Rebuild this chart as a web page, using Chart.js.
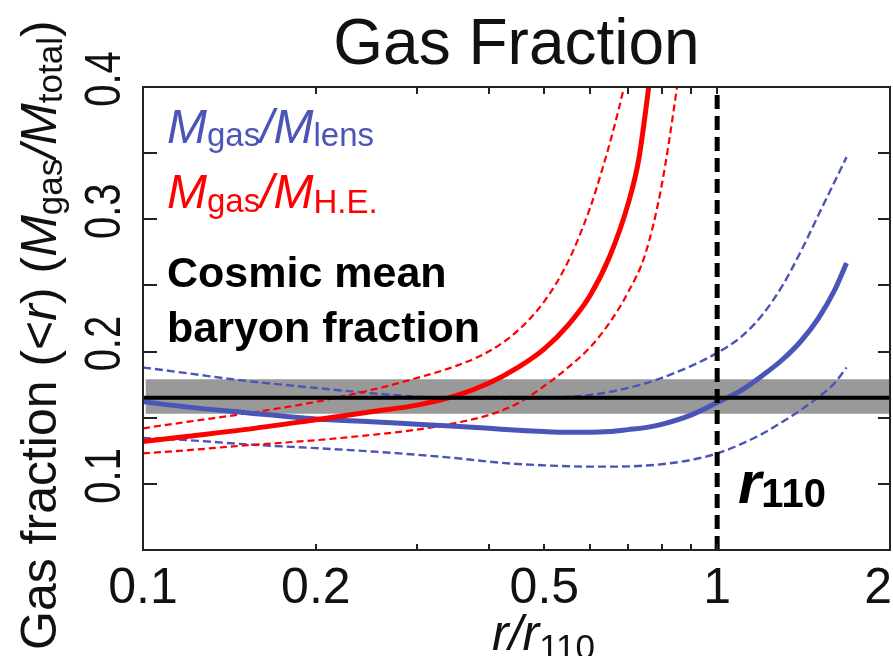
<!DOCTYPE html>
<html>
<head>
<meta charset="utf-8">
<script src="https://cdn.jsdelivr.net/npm/chart.js@4.4.0/dist/chart.umd.min.js"></script>
<style>
  html, body { margin: 0; padding: 0; background: #ffffff; }
  #wrap { width: 893px; height: 656px; position: relative; }
</style>
</head>
<body>
<div id="wrap"><canvas id="c" width="893" height="656"></canvas></div>
<script>
// Radii are in units of r110.
// Gas fraction from the lensing mass profile (best fit and 1-sigma bounds).
const radiusLens   = [0.1, 0.12, 0.15, 0.2, 0.25, 0.3, 0.35, 0.4, 0.45, 0.5, 0.55, 0.6, 0.65, 0.7, 0.75, 0.8, 0.9, 1.0, 1.1, 1.2, 1.3, 1.4, 1.5, 1.6, 1.68];
const fgasLens     = [0.162, 0.158, 0.154, 0.149, 0.147, 0.145, 0.1435, 0.142, 0.1405, 0.1395, 0.139, 0.139, 0.1395, 0.141, 0.1425, 0.145, 0.152, 0.1615, 0.1705, 0.182, 0.194, 0.208, 0.225, 0.246, 0.267];
const fgasLensHigh = [0.188, 0.1835, 0.178, 0.1725, 0.1685, 0.166, 0.1648, 0.1643, 0.1643, 0.1648, 0.1658, 0.1672, 0.1695, 0.1725, 0.176, 0.180, 0.189, 0.199, 0.211, 0.228, 0.250, 0.276, 0.303, 0.328, 0.347];
const fgasLensLow  = [0.1347, 0.133, 0.130, 0.127, 0.1245, 0.122, 0.1195, 0.1168, 0.115, 0.114, 0.1133, 0.113, 0.113, 0.1132, 0.1138, 0.1148, 0.118, 0.123, 0.130, 0.138, 0.147, 0.156, 0.1655, 0.176, 0.188];

// Gas fraction from the hydrostatic-equilibrium mass (best fit and bounds).
const radiusHE     = [0.1, 0.12, 0.15, 0.2, 0.25, 0.3, 0.35, 0.4, 0.45, 0.5, 0.55, 0.6, 0.65, 0.7, 0.73, 0.76, 0.79];
const fgasHE       = [0.132, 0.136, 0.141, 0.1485, 0.1545, 0.1595, 0.1665, 0.176, 0.188, 0.202, 0.220, 0.242, 0.272, 0.312, 0.345, 0.40, 0.46];
const radiusHEHigh = [0.1, 0.12, 0.15, 0.2, 0.25, 0.3, 0.35, 0.4, 0.45, 0.5, 0.55, 0.6, 0.63, 0.66, 0.69, 0.72];
const fgasHEHigh   = [0.142, 0.147, 0.153, 0.162, 0.171, 0.180, 0.189, 0.200, 0.216, 0.238, 0.268, 0.308, 0.337, 0.368, 0.402, 0.44];
const radiusHELow  = [0.1, 0.12, 0.15, 0.2, 0.25, 0.3, 0.35, 0.4, 0.45, 0.5, 0.55, 0.6, 0.65, 0.7, 0.75, 0.8, 0.85, 0.9];
const fgasHELow    = [0.123, 0.1255, 0.129, 0.133, 0.137, 0.141, 0.146, 0.152, 0.161, 0.174, 0.188, 0.203, 0.222, 0.245, 0.274, 0.325, 0.398, 0.48];

// Cosmic mean baryon fraction and its uncertainty band.
const cosmicRadius = [0.1, 2];
const bandRadius   = [0.101, 2];
const cosmicMean   = 0.165;
const cosmicLow    = 0.153;
const cosmicHigh   = 0.179;

// Marker at r = r110.
const r110 = 1.0;

// Axis ticks.
const xTickValues = [0.1, 0.2, 0.5, 1, 2];
const xTickLabels = ['0.1', '0.2', '0.5', '1', '2'];
const xMinorTicks = [0.2, 0.3, 0.4, 0.5, 0.6, 0.7, 0.8, 0.9, 1.0];
const yTickValues = [0.1, 0.2, 0.3, 0.4];
const yTickLabels = ['0.1', '0.2', '0.3', '0.4'];
const yMinorTicks = [0.1, 0.15, 0.2, 0.25, 0.3, 0.35];

const FONT = '"Liberation Sans", Arial, Helvetica, sans-serif';
const BLUE = '#4b55b7';
const RED = '#ff0000';
const GRAY = '#999999';

function pts(rs, vs) { return rs.map((r, i) => ({ x: r, y: vs[i] })); }
function flat(rs, v) { return rs.map(r => ({ x: r, y: v })); }

function lineSet(data, color, width, dash, order) {
  return {
    data, borderColor: color, borderWidth: width, borderDash: dash || [],
    pointRadius: 0, fill: false, cubicInterpolationMode: 'monotone', order,
    borderCapStyle: 'butt'
  };
}

const datasets = [
  { data: flat(bandRadius, cosmicLow), borderWidth: 0, pointRadius: 0, fill: false, order: 20 },
  { data: flat(bandRadius, cosmicHigh), borderWidth: 0, pointRadius: 0, fill: '-1', backgroundColor: GRAY, order: 19 },
  lineSet(pts(radiusLens, fgasLensHigh), BLUE, 2.4, [8, 4], 6),
  lineSet(pts(radiusLens, fgasLensLow), BLUE, 2.4, [8, 4], 6),
  lineSet(pts(radiusHEHigh, fgasHEHigh), RED, 2.2, [7, 4], 5),
  lineSet(pts(radiusHELow, fgasHELow), RED, 2.2, [7, 4], 5),
  lineSet(pts(radiusLens, fgasLens), BLUE, 5, null, 4),
  lineSet(pts(radiusHE, fgasHE), RED, 5, null, 3),
  { data: flat(cosmicRadius, cosmicMean), borderColor: '#000', borderWidth: 4, pointRadius: 0, fill: false, tension: 0, order: 1 },
  { data: [{ x: r110, y: 0.05 }, { x: r110, y: 0.4 }], borderColor: '#000', borderWidth: 5,
    borderDash: [14, 7], pointRadius: 0, fill: false, tension: 0, order: 0, clip: 6 }
];

function drawRuns(ctx, x, y, runs) {
  let cx = x;
  for (const r of runs) {
    ctx.font = r.font;
    ctx.fillStyle = r.color;
    ctx.fillText(r.text, cx, y + (r.dy || 0));
    cx += ctx.measureText(r.text).width + (r.kern || 0);
  }
  return cx;
}

const decorations = {
  id: 'decorations',
  afterDraw(chart) {
    const ctx = chart.ctx;
    const xs = chart.scales.x, ys = chart.scales.y;
    const a = chart.chartArea;
    ctx.save();

    // frame
    ctx.strokeStyle = '#222';
    ctx.lineWidth = 2;
    ctx.strokeRect(a.left, a.top, a.right - a.left, a.bottom - a.top);

    // inward tick marks
    ctx.lineWidth = 2;
    ctx.beginPath();
    for (const v of xMinorTicks) {
      const px = Math.round(xs.getPixelForValue(v));
      ctx.moveTo(px, a.bottom); ctx.lineTo(px, a.bottom - 6);
      ctx.moveTo(px, a.top); ctx.lineTo(px, a.top + 7);
    }
    for (const v of yMinorTicks) {
      const py = Math.round(ys.getPixelForValue(v));
      ctx.moveTo(a.left, py); ctx.lineTo(a.left + 14, py);
      ctx.moveTo(a.right, py); ctx.lineTo(a.right - 12, py);
    }
    ctx.stroke();

    ctx.textBaseline = 'alphabetic';

    // x tick labels
    ctx.fillStyle = '#111';
    ctx.font = '50px ' + FONT;
    ctx.textAlign = 'center';
    xTickValues.forEach((v, i) => {
      let px = xs.getPixelForValue(v);
      const w = ctx.measureText(xTickLabels[i]).width;
      if (px + w / 2 > chart.width - 1) px = chart.width - 1 - w / 2;
      ctx.fillText(xTickLabels[i], px, 603);
    });

    // y tick labels (rotated)
    yTickValues.forEach((v, i) => {
      const py = ys.getPixelForValue(v) - 8;
      ctx.save();
      ctx.translate(120, py);
      ctx.rotate(-Math.PI / 2);
      ctx.scale(0.8, 1);
      ctx.textAlign = 'center';
      ctx.fillText(yTickLabels[i], 0, 0);
      ctx.restore();
    });

    ctx.textAlign = 'left';

    // title
    ctx.font = '64px ' + FONT;
    ctx.textAlign = 'center';
    ctx.fillStyle = '#111';
    ctx.fillText('Gas Fraction', (a.left + a.right) / 2, 64);
    ctx.textAlign = 'left';

    // x axis title
    drawRuns(ctx, 492, 650, [
      { text: 'r/r', font: 'italic 50px ' + FONT, color: '#111' },
      { text: '110', font: '35px ' + FONT, color: '#111', dy: 9 }
    ]);

    // y axis title (rotated)
    ctx.save();
    ctx.translate(56, 650);
    ctx.rotate(-Math.PI / 2);
    drawRuns(ctx, 0, 0, [
      { text: 'Gas fraction (<', font: '50px ' + FONT, color: '#111' },
      { text: 'r', font: 'italic 50px ' + FONT, color: '#111' },
      { text: ') (', font: '50px ' + FONT, color: '#111' },
      { text: 'M', font: 'italic 50px ' + FONT, color: '#111' },
      { text: 'gas', font: '35px ' + FONT, color: '#111', dy: 6 },
      { text: '/', font: 'italic 50px ' + FONT, color: '#111' },
      { text: 'M', font: 'italic 50px ' + FONT, color: '#111' },
      { text: 'total', font: '35px ' + FONT, color: '#111', dy: 6 },
      { text: ')', font: '50px ' + FONT, color: '#111' }
    ]);
    ctx.restore();

    // legend labels
    drawRuns(ctx, 167, 143, [
      { text: 'M', font: 'italic 48px ' + FONT, color: BLUE },
      { text: 'gas', font: '33px ' + FONT, color: BLUE, dy: 3 },
      { text: '/', font: 'italic 48px ' + FONT, color: BLUE },
      { text: 'M', font: 'italic 48px ' + FONT, color: BLUE },
      { text: 'lens', font: '33px ' + FONT, color: BLUE, dy: 3 }
    ]);
    drawRuns(ctx, 167, 208, [
      { text: 'M', font: 'italic 48px ' + FONT, color: RED },
      { text: 'gas', font: '33px ' + FONT, color: RED, dy: 4 },
      { text: '/', font: 'italic 48px ' + FONT, color: RED },
      { text: 'M', font: 'italic 48px ' + FONT, color: RED },
      { text: 'H.E.', font: '33px ' + FONT, color: RED, dy: 5 }
    ]);
    ctx.fillStyle = '#000';
    ctx.font = 'bold 43px ' + FONT;
    ctx.fillText('Cosmic mean', 167, 287);
    ctx.fillText('baryon fraction', 167, 342);

    // r110 marker label
    drawRuns(ctx, 738, 503, [
      { text: 'r', font: 'italic bold 60px ' + FONT, color: '#000' },
      { text: '110', font: 'bold 40px ' + FONT, color: '#000', dy: 4 }
    ]);

    ctx.restore();
  }
};

new Chart(document.getElementById('c'), {
  type: 'line',
  data: { datasets },
  options: {
    responsive: false,
    animation: false,
    events: [],
    devicePixelRatio: 1,
    layout: { padding: { left: 143, top: 87, right: 3, bottom: 106 } },
    plugins: { legend: { display: false }, tooltip: { enabled: false }, title: { display: false } },
    scales: {
      x: { type: 'logarithmic', min: 0.1, max: 2,
           ticks: { display: false }, grid: { display: false, drawTicks: false }, border: { display: false } },
      y: { type: 'linear', min: 0.05, max: 0.4,
           ticks: { display: false }, grid: { display: false, drawTicks: false }, border: { display: false } }
    }
  },
  plugins: [decorations]
});
</script>
</body>
</html>
